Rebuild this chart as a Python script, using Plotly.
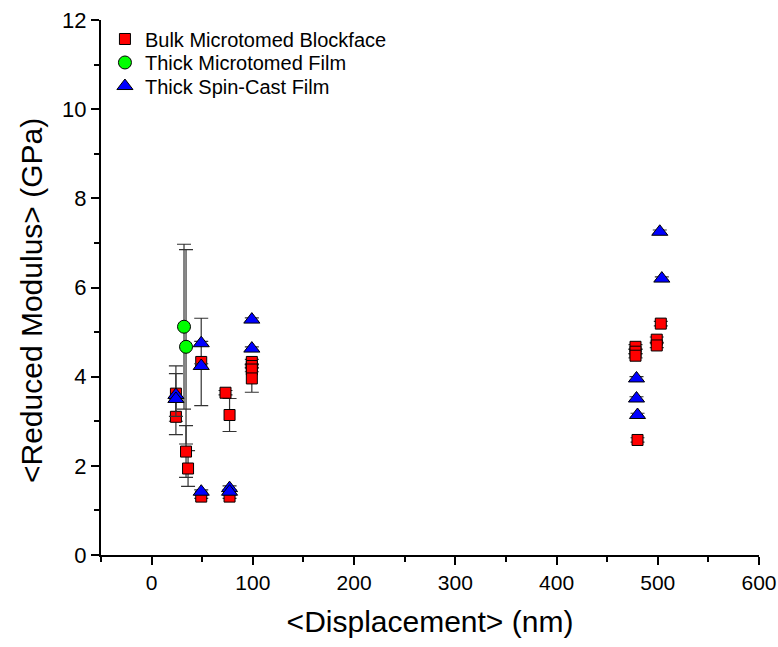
import plotly.graph_objects as go

# Bulk Microtomed Blockface (red squares)
bulk_x = [24, 24, 34, 36, 49, 49, 73, 77, 77, 99, 99, 99, 99, 478, 478, 478, 480, 499, 499, 503]
bulk_y = [3.62, 3.10, 2.32, 1.94, 4.33, 1.31, 3.64, 3.14, 1.31, 4.33, 4.24, 4.16, 3.96, 4.67, 4.56, 4.47, 2.58, 4.83, 4.70, 5.19]
bulk_err = [0.62, 0.40, 0.58, 0.40, 0.98, 0.04, 0.05, 0.37, 0.04, 0.06, 0.05, 0.05, 0.31, 0.05, 0.05, 0.05, 0.05, 0.06, 0.05, 0.05]

# Thick Microtomed Film (green circles)
mic_x = [32, 34]
mic_y = [5.12, 4.67]
mic_err = [1.85, 2.18]

# Thick Spin-Cast Film (blue triangles)
spin_x = [24, 24, 49, 49, 49, 77, 77, 99, 99, 479, 479, 480, 502, 504]
spin_y = [3.59, 3.50, 4.75, 4.24, 1.42, 1.50, 1.42, 5.28, 4.63, 3.96, 3.51, 3.14, 7.25, 6.20]
spin_err = [0.48, 0.05, 0.04, 0.05, 0.04, 0.05, 0.04, 0.04, 0.04, 0.04, 0.04, 0.04, 0.04, 0.04]

FONT = "Liberation Sans, Arial, sans-serif"
err_style = dict(type="data", visible=True, color="#333333", thickness=1.2, width=7)

fig = go.Figure()
fig.add_trace(go.Scatter(
    x=bulk_x, y=bulk_y, mode="markers", name="Bulk Microtomed Blockface", legend="legend",
    error_y=dict(array=bulk_err, **err_style),
    marker=dict(symbol="square", size=11, color="#ff0000", line=dict(color="#000000", width=1)),
))
fig.add_trace(go.Scatter(
    x=mic_x, y=mic_y, mode="markers", name="Thick Microtomed Film", legend="legend2",
    error_y=dict(array=mic_err, **err_style),
    marker=dict(symbol="circle", size=13, color="#00ff00", line=dict(color="#000000", width=1)),
))
fig.add_trace(go.Scatter(
    x=spin_x, y=spin_y, mode="markers", name="Thick Spin-Cast Film", legend="legend3",
    error_y=dict(array=spin_err, **err_style),
    marker=dict(symbol="triangle-up", size=14, color="#0000ff", line=dict(color="#000000", width=1)),
))

leg_common = dict(x=0.006, xanchor="left", yanchor="middle", bgcolor="rgba(0,0,0,0)",
                  font=dict(size=20, family=FONT, color="black"), itemwidth=30)

fig.update_layout(
    width=778, height=647,
    margin=dict(l=101, r=19, t=20, b=92, autoexpand=False),
    paper_bgcolor="white", plot_bgcolor="white",
    font=dict(family=FONT, color="black"),
    showlegend=True,
    legend=dict(y=0.9645, **leg_common),
    legend2=dict(y=0.9206, **leg_common),
    legend3=dict(y=0.8766, **leg_common),
    annotations=[dict(
        text="&lt;Reduced Modulus&gt; (GPa)", xref="paper", yref="paper",
        x=-0.1064, y=0.4766, xanchor="center", yanchor="middle", textangle=-90,
        showarrow=False, font=dict(size=30, family=FONT, color="black"),
    )],
)
fig.update_xaxes(
    range=[-50, 600], tickmode="array", tickvals=[0, 100, 200, 300, 400, 500, 600],
    showline=True, linecolor="black", linewidth=2, mirror=False, automargin=False,
    ticks="outside", ticklen=8, tickwidth=1.5, tickcolor="black",
    minor=dict(ticks="outside", ticklen=5, tickwidth=1.5, tickcolor="black", dtick=50, tick0=-50),
    showgrid=False, zeroline=False,
    tickfont=dict(size=21, family=FONT),
    title=dict(text="&lt;Displacement&gt; (nm)", font=dict(size=30, family=FONT), standoff=18),
)
fig.update_yaxes(
    range=[0, 12], tickmode="array", tickvals=[0, 2, 4, 6, 8, 10, 12],
    showline=True, linecolor="black", linewidth=2, mirror=False, automargin=False,
    ticks="outside", ticklen=8, tickwidth=1.5, tickcolor="black",
    minor=dict(ticks="outside", ticklen=5, tickwidth=1.5, tickcolor="black", dtick=1, tick0=0),
    showgrid=False, zeroline=False,
    tickfont=dict(size=22, family=FONT),
)

fig.write_html("out.html")
